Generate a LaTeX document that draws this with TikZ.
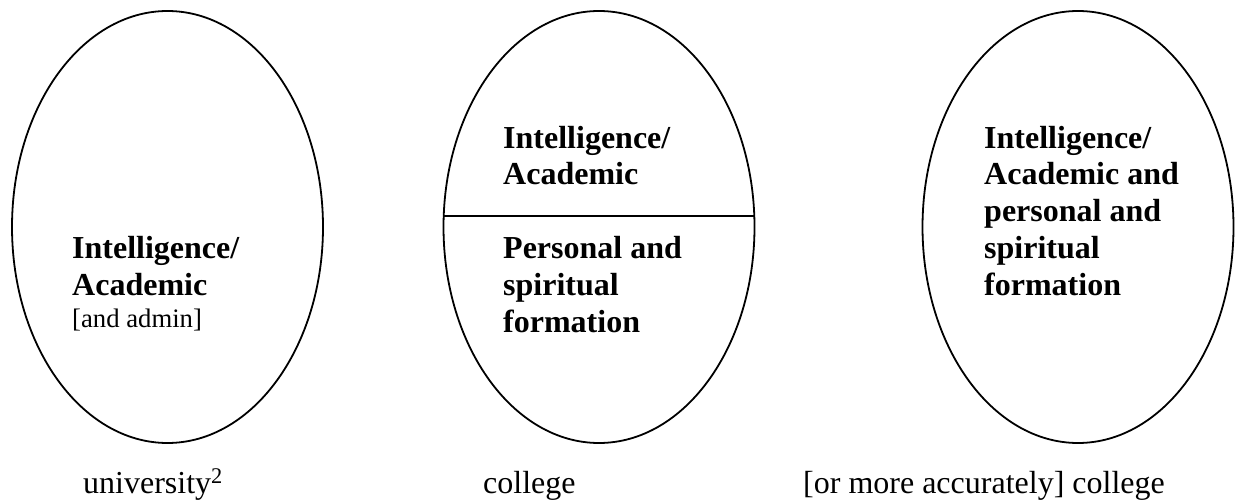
\documentclass[tikz,border=0pt]{standalone}
\usepackage{fontspec}
\setmainfont{Liberation Serif}
\usetikzlibrary{shapes.geometric,calc}
\begin{document}
\begin{tikzpicture}[x=1pt,y=-1pt,
  oval/.style={draw,ellipse,line width=1.8pt,minimum width=311pt,minimum height=432pt,inner sep=0pt},
  boldtxt/.style={anchor=base west,inner sep=0pt,align=left,font=\fontsize{32}{36.7}\selectfont\bfseries},
  smalltxt/.style={anchor=base west,inner sep=0pt,font=\fontsize{26.7}{30}\selectfont},
  labeltxt/.style={anchor=base west,inner sep=0pt,font=\fontsize{32}{36.7}\selectfont}]
\useasboundingbox (0,0) rectangle (1238,502);
\node[oval] (e1) at (167.5,227) {};
\node[oval] (e2) at (599,227) {};
\node[oval] (e3) at (1078,227) {};
\coordinate (d1) at ($(e2.center)+(-155.8,-11)$);
\coordinate (d2) at ($(e2.center)+(155.8,-11)$);
\draw[line width=1.8pt] (d1) -- (d2);
% base anchor = baseline of the last line
\node[boldtxt] (t1) at (72,295) {Intelligence/\\Academic};
\node[smalltxt] (t1b) at (72,327) {[and admin]};
\node[boldtxt] (t2) at (503,185) {Intelligence/\\Academic};
\node[boldtxt] (t2b) at (503,332) {Personal and\\spiritual\\formation};
\node[boldtxt] (t3) at (984,295) {Intelligence/\\Academic and\\personal and\\spiritual\\formation};
\node[labeltxt] (l1) at (83,493) {university\textsuperscript{2}};
\node[labeltxt] (l2) at (483,493) {college};
\node[labeltxt] (l3) at (803,493) {[or more accurately] college};
\end{tikzpicture}
\end{document}
